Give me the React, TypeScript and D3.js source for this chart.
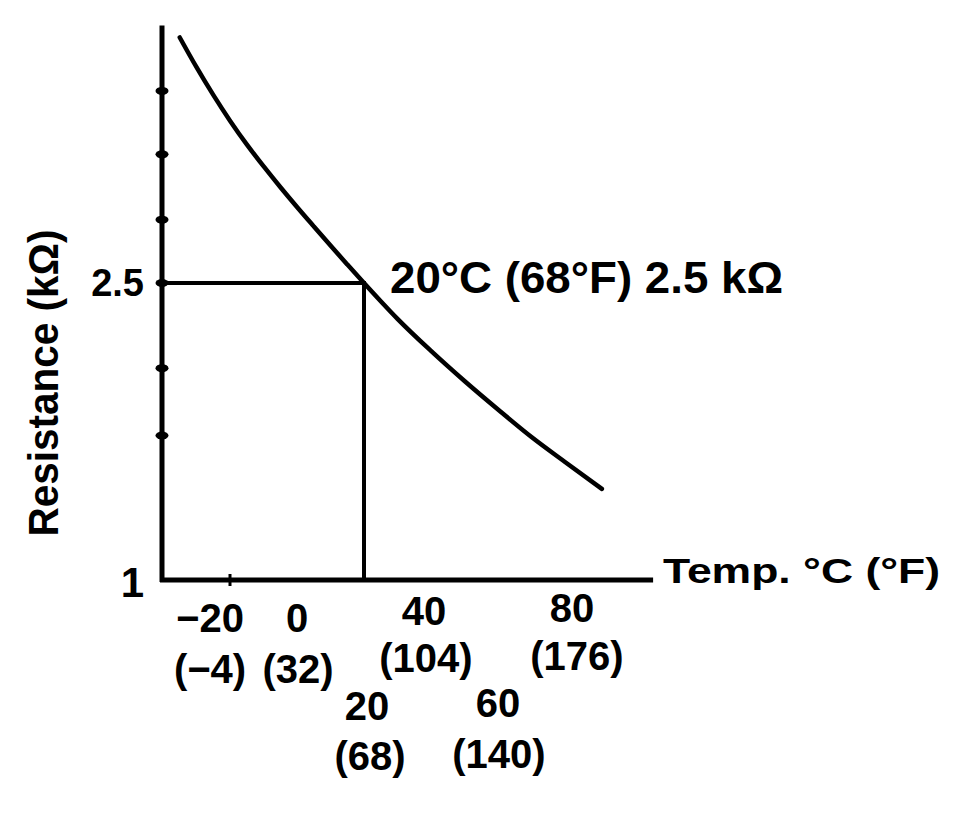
import React from "react";
import * as d3 from "d3";

// ---- data ----
const tempsC = [-35, -30, -25, -20, -15, -10, -5, 0, 5, 10, 15, 20, 25, 30, 40, 50, 60, 70, 80, 91];
const resistanceK = [3.74, 3.59, 3.45, 3.32, 3.2, 3.09, 2.985, 2.884, 2.786, 2.689, 2.594, 2.5, 2.408, 2.319, 2.157, 2.005, 1.861, 1.722, 1.596, 1.46];
const xTickC = [-20, 0, 20, 40, 60, 80];
const xTickLabelsC = ["\u221220", "0", "20", "40", "60", "80"];
const xTickLabelsF = ["(\u22124)", "(32)", "(68)", "(104)", "(140)", "(176)"];
const xTickMarks = [-20];
const yTickValues = [1.73, 2.07, 2.5, 2.82, 3.15, 3.47];
const yLabelValues = [1, 2.5];
const yLabelTexts = ["1", "2.5"];
const refC = 20;
const refR = 2.5;
const refLabel = "20\u00B0C (68\u00B0F) 2.5 k\u03A9";
const xAxisTitle = "Temp. \u00B0C (\u00B0F)";
const yAxisTitle = "Resistance (k\u03A9)";

// ---- layout (positions / styles) ----
const W = 978;
const H = 816;
const FONT = "'Liberation Sans', Arial, Helvetica, sans-serif";
const xDomain: [number, number] = [-40, 100];
const xRange: [number, number] = [163, 632];
const xAxisEndC = 106.3;
const yDomain: [number, number] = [1, 2.5];
const yRange: [number, number] = [580, 283];
const yAxisTopR = 3.8;
const labelDxC = [-20, 0, 3, -7, 0, 7];
const labelYC = [632, 632, 720, 625, 717, 622];
const labelDxF = [-20, 1, 6, -5, 1, 12];
const labelYF = [683, 683, 770, 672, 768, 670];
const yLabelSizes = [42, 38];
const yLabelBaseDy = [17, 13];

export default function App() {
  const x = d3.scaleLinear().domain(xDomain).range(xRange);
  const y = d3.scaleLinear().domain(yDomain).range(yRange);
  const axisX = x(xDomain[0]) - 1;
  const axisY = y(yDomain[0]);

  const pts = tempsC.map((t, i) => [t, resistanceK[i]] as [number, number]);
  const line = d3
    .line<[number, number]>()
    .x((d) => x(d[0]))
    .y((d) => y(d[1]))
    .curve(d3.curveMonotoneX);

  return (
    <svg
      width={W}
      height={H}
      viewBox={`0 0 ${W} ${H}`}
      style={{ position: "absolute", left: 0, top: 0, background: "#fff" }}
      fontFamily={FONT}
      fontWeight="bold"
    >
      <rect x={0} y={0} width={W} height={H} fill="#fff" />
      {/* reference lines */}
      <line x1={axisX} y1={y(refR)} x2={x(refC) + 2} y2={y(refR)} stroke="#000" strokeWidth={4} />
      <line x1={x(refC)} y1={y(refR)} x2={x(refC)} y2={axisY} stroke="#000" strokeWidth={4} />

      {/* y axis */}
      <line x1={axisX} y1={y(yAxisTopR)} x2={axisX} y2={axisY + 2} stroke="#000" strokeWidth={5} />
      {yTickValues.map((v, i) => (
        <ellipse key={"yt" + i} cx={axisX} cy={y(v)} rx={6.5} ry={4} fill="#000" />
      ))}
      {yLabelValues.map((v, i) => (
        <text
          key={"yl" + i}
          x={144}
          y={y(v) + yLabelBaseDy[i]}
          textAnchor="end"
          fontSize={yLabelSizes[i]}
          fill="#000"
        >
          {yLabelTexts[i]}
        </text>
      ))}

      {/* x axis */}
      <line x1={axisX - 2} y1={axisY} x2={x(xAxisEndC)} y2={axisY} stroke="#000" strokeWidth={5} />
      {xTickMarks.map((v, i) => (
        <line key={"xm" + i} x1={x(v)} y1={axisY - 6} x2={x(v)} y2={axisY + 6} stroke="#000" strokeWidth={3} />
      ))}
      {xTickC.map((v, i) => (
        <g key={"xl" + i} fontSize={40} fill="#000" textAnchor="middle">
          <text x={x(v) + labelDxC[i]} y={labelYC[i]}>
            {xTickLabelsC[i]}
          </text>
          <text x={x(v) + labelDxF[i]} y={labelYF[i]}>
            {xTickLabelsF[i]}
          </text>
        </g>
      ))}

      {/* curve */}
      <path d={line(pts) || ""} fill="none" stroke="#000" strokeWidth={4.5} strokeLinecap="round" />

      {/* annotation */}
      <text x={390} y={293} fontSize={44} textLength={393} lengthAdjust="spacingAndGlyphs" fill="#000">
        {refLabel}
      </text>

      {/* axis titles */}
      <text x={663} y={583} fontSize={35} textLength={277} lengthAdjust="spacingAndGlyphs" fill="#000">
        {xAxisTitle}
      </text>
      <text
        transform="translate(58,383) rotate(-90)"
        textAnchor="middle"
        fontSize={42}
        textLength={307}
        lengthAdjust="spacingAndGlyphs"
        fill="#000"
      >
        {yAxisTitle}
      </text>
    </svg>
  );
}
